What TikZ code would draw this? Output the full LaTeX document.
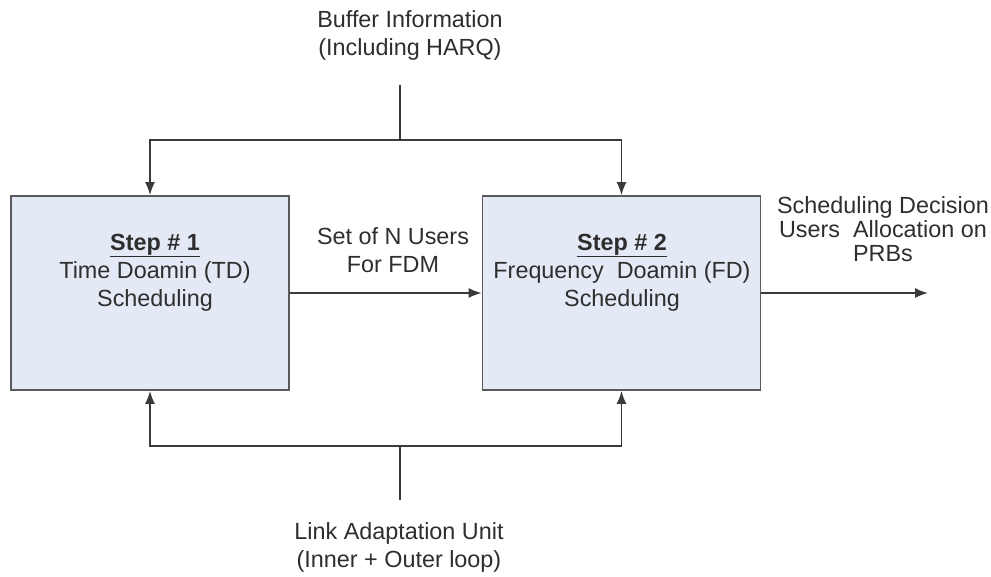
\documentclass[tikz,border=0pt]{standalone}
\usepackage{fontspec}
\setmainfont{Liberation Sans}
\usetikzlibrary{arrows.meta}
\definecolor{boxfill}{HTML}{E4EAF5}
\definecolor{boxline}{HTML}{5A5A5A}
\definecolor{wire}{HTML}{3A3A3A}
\definecolor{ink}{HTML}{2E2E2E}
\newcommand{\steptitle}[1]{\underline{\raisebox{0pt}[\height][1.6pt]{\textbf{#1}}}}
\tikzset{
  stepbox/.style={draw=boxline, fill=boxfill, line width=1.1pt, minimum width=5.56cm, minimum height=3.88cm, inner sep=0pt},
  txt/.style={text=ink, align=center, inner sep=0pt, font=\fontsize{13.3}{15.9}\selectfont},
  wire/.style={draw=wire, line width=0.85pt}
}
\begin{document}
\begin{tikzpicture}[x=0.02cm, y=-0.02cm, >={Latex[length=2.6mm,width=2mm]}]
	\useasboundingbox (0,0) rectangle (991,576);
	% blocks
	\node[stepbox](box1) at (150,293) {};
	\node[stepbox](box2) at (621.5,293) {};
	\node[txt](t1) at (155,273) {\steptitle{Step \# 1}\\Time Doamin (TD)\\Scheduling};
	\node[txt](t2) at (622,273) {\steptitle{Step \# 2}\\Frequency\ \ Doamin (FD)\\Scheduling};
	% labels
	\node[txt](buf) at (410,35) {Buffer Information\\(Including HARQ)};
	\node[txt](lau) at (399,547) {Link Adaptation Unit\\(Inner + Outer loop)};
	\node[txt](nusers) at (393,250) {Set of N Users\\For FDM};
	\node[txt, font=\fontsize{13.3}{13.6}\selectfont](dec) at (883,229) {Scheduling Decision\\Users\ \ Allocation on\\PRBs};
	% connectors
	\coordinate (bufend) at (400,85);
	\coordinate (topjoin) at (400,140);
	\coordinate (lauend) at (400,500);
	\coordinate (botjoin) at (400,446);
	\coordinate (out) at (928,293);
	\draw[wire] (bufend) -- (topjoin);
	\draw[wire,->] (topjoin) -| (box1.north);
	\draw[wire,->] (topjoin) -| (box2.north);
	\draw[wire] (lauend) -- (botjoin);
	\draw[wire,->] (botjoin) -| (box1.south);
	\draw[wire,->] (botjoin) -| (box2.south);
	\draw[wire,->] (box1) -- (box2);
	\draw[wire,->] (box2) -- (out);
\end{tikzpicture}
\end{document}
